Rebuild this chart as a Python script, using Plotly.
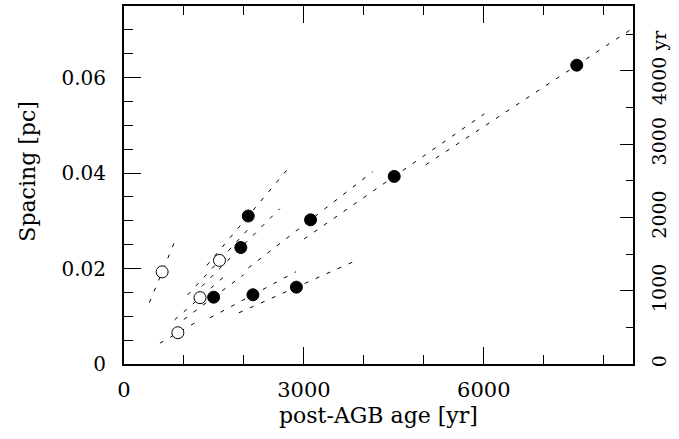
import plotly.graph_objects as go

# ---- data ----
age_open = [636, 1268, 898, 1592]            # post-AGB age [yr], open circles
spacing_open = [0.0193, 0.0139, 0.00655, 0.0217]   # spacing [pc]

age_filled = [1495, 2072, 1948, 2150, 2875, 3111, 4506, 7550]
spacing_filled = [0.0140, 0.0310, 0.0244, 0.0145, 0.0161, 0.0302, 0.0393, 0.0626]

# distance-scaling range of each object (segment along ray through origin)
scale_lo = 2.0 / 3.0
scale_hi = 4.0 / 3.0

# right axis: spacing expressed as a time (1000 yr <-> 0.01536 pc)
pc_per_kyr = 0.01536
right_tick_vals = [0, 1000, 2000, 3000, 4000]
right_tick_text = ["0", "1000", "2000", "3000", "4000 yr"]

x_tick_vals = [0, 3000, 6000]
x_tick_text = ["0", "3000", "6000"]
y_tick_vals = [0, 0.02, 0.04, 0.06]
y_tick_text = ["0", "0.02", "0.04", "0.06"]

x_max = 8488
y_max = 0.0750

FONT = "DejaVu Serif"

fig = go.Figure()

# dashed segments for every object
for ax_, sp_ in list(zip(age_open, spacing_open)) + list(zip(age_filled, spacing_filled)):
    fig.add_trace(go.Scatter(
        x=[ax_ * scale_lo, ax_ * scale_hi],
        y=[sp_ * scale_lo, sp_ * scale_hi],
        mode="lines",
        line=dict(color="black", width=1, dash="4px,8px"),
        hoverinfo="skip", showlegend=False,
    ))

fig.add_trace(go.Scatter(
    x=age_open, y=spacing_open, mode="markers",
    marker=dict(symbol="circle", size=12, color="white",
                line=dict(color="black", width=1)),
    showlegend=False,
))
fig.add_trace(go.Scatter(
    x=age_filled, y=spacing_filled, mode="markers",
    marker=dict(symbol="circle", size=12, color="black",
                line=dict(color="black", width=1)),
    showlegend=False,
))
# empty trace to activate the right-hand axis
fig.add_trace(go.Scatter(x=[], y=[], yaxis="y2", showlegend=False))

fig.update_layout(
    width=679, height=439,
    margin=dict(l=124, r=46, t=6, b=75),
    paper_bgcolor="white", plot_bgcolor="white",
    font=dict(family=FONT, color="black"),
    showlegend=False,
    xaxis=dict(
        range=[0, x_max], tickmode="array", tickvals=x_tick_vals, ticktext=x_tick_text,
        ticks="inside", ticklen=17, tickwidth=1, tickcolor="black",
        minor=dict(dtick=1000, ticklen=9, tickwidth=1, tickcolor="black", ticks="inside"),
        showline=True, linewidth=2, linecolor="black", mirror="ticks",
        showgrid=False, zeroline=False, automargin=False,
        tickfont=dict(family=FONT, size=21, color="black"),
        ticklabelstandoff=6,
    ),
    yaxis=dict(
        range=[0, y_max], tickmode="array", tickvals=y_tick_vals, ticktext=y_tick_text,
        ticks="inside", ticklen=17, tickwidth=1, tickcolor="black",
        minor=dict(dtick=0.005, ticklen=9, tickwidth=1, tickcolor="black", ticks="inside"),
        showline=True, linewidth=2, linecolor="black", mirror=False,
        showgrid=False, zeroline=False, automargin=False,
        tickfont=dict(family=FONT, size=20, color="black"),
        ticklabelstandoff=12,
    ),
    yaxis2=dict(
        overlaying="y", side="right", anchor="x",
        range=[0, y_max / pc_per_kyr * 1000],
        tickmode="array", tickvals=right_tick_vals, ticktext=right_tick_text,
        ticks="inside", ticklen=13, tickwidth=1, tickcolor="black",
        minor=dict(dtick=500, ticklen=7, tickwidth=1, tickcolor="black", ticks="inside"),
        showline=True, linewidth=2, linecolor="black",
        showgrid=False, zeroline=False, tickangle=-90, automargin=False,
        tickfont=dict(family=FONT, size=19, color="black"),
        ticklabelstandoff=8,
    ),
    annotations=[
        dict(text="post-AGB age [yr]", xref="paper", yref="paper",
             x=0.5, y=-0.1425, xanchor="center", yanchor="middle",
             showarrow=False, font=dict(family=FONT, size=22, color="black")),
        dict(text="Spacing [pc]", xref="paper", yref="paper",
             x=-0.1895, y=0.536, xanchor="center", yanchor="middle", textangle=-90,
             showarrow=False, font=dict(family=FONT, size=22, color="black")),
    ],
)

fig.write_html("out.html", config={"displayModeBar": False},
               post_script="document.body.style.margin='0px';")
